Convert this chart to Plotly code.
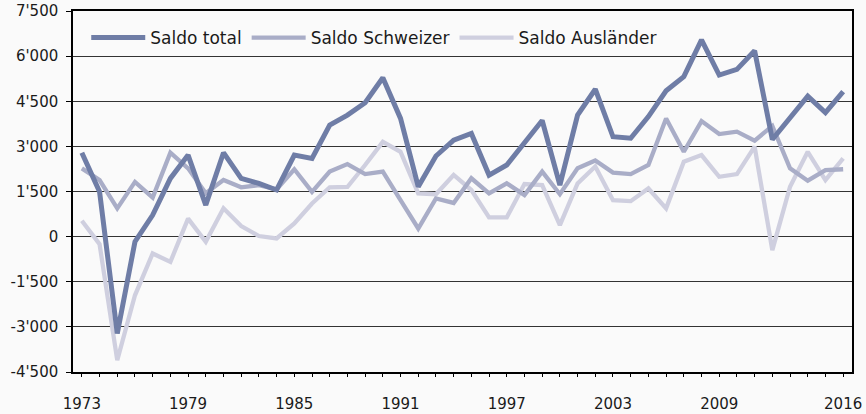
import plotly.graph_objects as go

years = list(range(1973, 2017))

saldo_total = [2790, 1490, -3220, -170, 715, 1935, 2710, 1050, 2790, 1935,
               1770, 1550, 2710, 2600, 3710, 4040, 4450, 5280, 3930, 1660,
               2680, 3210, 3430, 2045, 2380, 3120, 3860, 1710, 4040, 4900,
               3320, 3270, 3990, 4850, 5320, 6540, 5370, 5560, 6180, 3230,
               3930, 4670, 4120, 4820]

saldo_schweizer = [2270, 1880, 940, 1820, 1300, 2790, 2270, 1440, 1880, 1640,
                   1710, 1570, 2240, 1490, 2160, 2410, 2080, 2160, 1210, 270,
                   1270, 1120, 1940, 1440, 1770, 1380, 2160, 1410, 2270, 2530,
                   2130, 2080, 2380, 3930, 2820, 3840, 3410, 3490, 3190, 3680,
                   2270, 1860, 2210, 2240]

saldo_auslaender = [530, -250, -4110, -1950, -560, -840, 600, -170, 940, 350,
                    20, -60, 440, 1100, 1640, 1650, 2380, 3150, 2820, 1440,
                    1410, 2050, 1550, 640, 640, 1750, 1710, 380, 1770, 2330,
                    1210, 1180, 1600, 940, 2490, 2710, 1990, 2080, 2990, -450,
                    1660, 2820, 1880, 2600]

series_names = ["Saldo total", "Saldo Schweizer", "Saldo Ausländer"]
series_colors = ["#6f7da6", "#a9adc7", "#cfcfdf"]

x_label_years = [1973, 1979, 1985, 1991, 1997, 2003, 2009, 2016]
x_ticktext = [str(y) if y in x_label_years else "" for y in years]

y_tickvals = [-4500, -3000, -1500, 0, 1500, 3000, 4500, 6000, 7500]
y_ticktext = ["-4'500", "-3'000", "-1'500", "0", "1'500", "3'000", "4'500", "6'000", "7'500"]

font_family = "DejaVu Sans"

fig = go.Figure()
data = [saldo_total, saldo_schweizer, saldo_auslaender]
widths = [5, 4.3, 4.3]
for i in [2, 1, 0]:
    fig.add_trace(go.Scatter(
        x=years, y=data[i], mode="lines", name=series_names[i],
        line=dict(color=series_colors[i], width=widths[i]),
    ))

fig.update_layout(
    width=866, height=414,
    margin=dict(l=73, r=14, t=11, b=42, autoexpand=False),
    paper_bgcolor="#fafafa", plot_bgcolor="#fafafa",
    font=dict(family=font_family, size=15, color="#1a1a1a"),
    showlegend=True,
    legend=dict(
        orientation="h", traceorder="reversed",
        x=0.017, y=0.975, xanchor="left", yanchor="top",
        bgcolor="rgba(0,0,0,0)", font=dict(size=17, color="#1a1a1a"),
        itemwidth=54,
    ),
    xaxis=dict(
        range=[1972.5, 2016.5], tickvals=years, ticktext=x_ticktext,
        ticks="outside", ticklen=3, tickcolor="#000", tickwidth=1,
        showline=True, linecolor="#000", linewidth=1.5, mirror=True,
        showgrid=False, zeroline=False, ticklabelstandoff=14,
        tickfont=dict(size=15), automargin=False,
    ),
    yaxis=dict(
        range=[-4500, 7500], tickvals=y_tickvals, ticktext=y_ticktext,
        ticks="outside", ticklen=5, tickcolor="#000", tickwidth=1,
        showline=True, linecolor="#000", linewidth=1.5, mirror=True,
        showgrid=True, gridcolor="#333", gridwidth=1, zeroline=False,
        ticklabelstandoff=5, tickfont=dict(size=15), automargin=False,
    ),
)

fig.write_html(
    "out.html",
    config={"displayModeBar": False},
    post_script="document.body.style.margin='0px';document.body.style.overflow='hidden';",
)
